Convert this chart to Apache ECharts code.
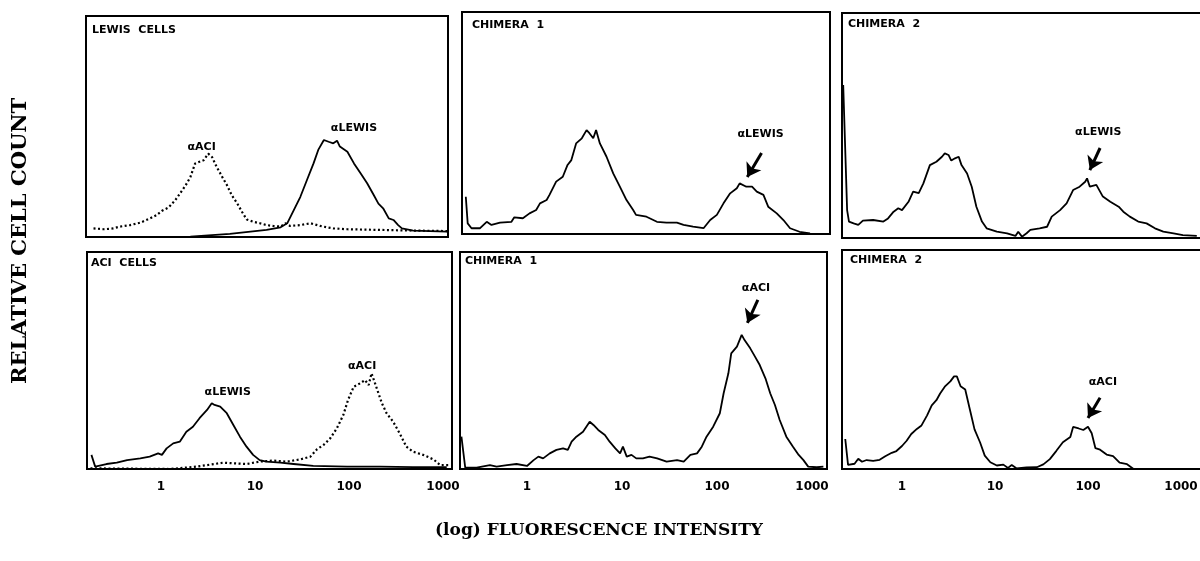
<!DOCTYPE html>
<html><head><meta charset="utf-8">
<script src="https://cdn.jsdelivr.net/npm/echarts@6/dist/echarts.min.js"></script>
<style>html,body{margin:0;padding:0;background:#fff}#chart{width:1200px;height:561px}</style>
</head><body><div id="chart"></div>
<script>
// x values are log10(fluorescence intensity); y values are relative cell count (% of panel height)
const tickValues = [0, 1, 2, 3];
const tickLabels = ['1', '10', '100', '1000'];
const panelNames = ['LEWIS  CELLS', 'CHIMERA  1', 'CHIMERA  2', 'ACI  CELLS', 'CHIMERA  1', 'CHIMERA  2'];

// Panel 1: Lewis cells
const lewisCellsAntiACI = [[-0.72,3.9],[-0.61,3.5],[-0.51,3.9],[-0.44,4.7],[-0.33,5.4],[-0.22,6.5],[-0.12,8.4],[-0.05,9.9],[0.01,11.9],[0.08,13.4],[0.15,16.7],[0.20,19.7],[0.26,23.4],[0.31,27.1],[0.36,33.2],[0.40,33.9],[0.45,34.7],[0.50,37.7],[0.54,36.2],[0.59,31.7],[0.65,27.1],[0.70,23.4],[0.75,18.9],[0.81,15.1],[0.86,11.3],[0.91,7.9],[0.98,6.9],[1.05,6.2],[1.12,5.4],[1.19,5.0],[1.27,4.7],[1.32,6.2],[1.37,5.0],[1.48,5.4],[1.59,6.2],[1.69,5.0],[1.76,4.4],[1.83,3.9],[1.98,3.5],[2.33,3.2],[2.68,2.9],[3.04,2.7]];
const lewisCellsAntiLewis = [[-0.74,0],[-0.15,0],[0.31,0.2],[0.73,1.4],[1.12,3.2],[1.27,4.4],[1.34,6.2],[1.41,12.2],[1.48,18.2],[1.55,25.8],[1.62,33.3],[1.67,39.4],[1.73,43.9],[1.78,43.1],[1.83,42.4],[1.87,43.6],[1.90,40.9],[1.98,38.6],[2.05,33.3],[2.12,28.8],[2.19,24.3],[2.26,19.0],[2.31,15.1],[2.36,13.0],[2.42,8.4],[2.47,7.7],[2.52,5.4],[2.56,3.9],[2.68,2.9],[3.04,2.4]];
// Panel 2: Chimera 1, anti-Lewis
const chimera1AntiLewis = [[-0.64,16.8],[-0.62,4.8],[-0.58,2.6],[-0.49,2.6],[-0.42,5.5],[-0.37,4.1],[-0.28,5.1],[-0.16,5.5],[-0.13,7.5],[-0.04,7.1],[0.03,9.3],[0.10,10.8],[0.14,13.8],[0.21,15.3],[0.24,17.6],[0.31,23.6],[0.38,25.8],[0.43,31.1],[0.47,33.3],[0.52,40.8],[0.58,43.1],[0.63,46.8],[0.66,45.4],[0.70,43.1],[0.73,46.8],[0.77,40.8],[0.84,34.8],[0.91,27.3],[0.98,21.3],[1.05,15.3],[1.12,10.8],[1.15,8.6],[1.26,7.8],[1.37,5.5],[1.47,5.1],[1.58,5.1],[1.65,4.1],[1.75,3.3],[1.86,2.6],[1.93,6.3],[2.00,8.6],[2.07,13.8],[2.14,18.3],[2.21,20.6],[2.24,22.8],[2.31,21.3],[2.37,21.3],[2.42,19.1],[2.49,17.6],[2.54,12.3],[2.63,9.3],[2.70,6.3],[2.77,2.6],[2.87,1.0],[2.98,0.3]];
// Panel 3: Chimera 2, anti-Lewis
const chimera2AntiLewis = [[-0.632,68],[-0.59,12.4],[-0.57,7.3],[-0.52,6.5],[-0.47,5.8],[-0.42,7.7],[-0.31,8.0],[-0.20,7.3],[-0.15,8.7],[-0.09,11.7],[-0.04,13.2],[0.00,12.4],[0.07,16.1],[0.12,20.6],[0.18,19.9],[0.23,24.3],[0.30,32.4],[0.37,33.9],[0.43,36.1],[0.46,37.6],[0.50,36.9],[0.53,34.4],[0.57,35.4],[0.61,36.1],[0.64,32.4],[0.70,28.7],[0.75,22.8],[0.80,13.9],[0.86,7.3],[0.91,4.3],[1.02,2.8],[1.13,2.1],[1.22,0.9],[1.25,2.8],[1.29,0.6],[1.34,2.1],[1.38,3.6],[1.48,4.3],[1.56,5.0],[1.61,9.5],[1.70,12.4],[1.77,15.4],[1.84,21.3],[1.91,22.8],[1.97,25.0],[1.99,26.5],[2.02,22.8],[2.09,23.6],[2.16,18.4],[2.24,16.1],[2.33,13.9],[2.38,11.7],[2.45,9.5],[2.54,7.3],[2.63,6.5],[2.72,4.3],[2.81,2.8],[2.92,2.1],[3.02,1.3],[3.17,0.9]];
// Panel 4: ACI cells
const aciCellsAntiLewis = [[-0.74,6.5],[-0.70,1.1],[-0.58,2.3],[-0.47,2.9],[-0.36,4.1],[-0.22,4.9],[-0.12,5.7],[-0.03,7.2],[0.01,6.5],[0.06,9.5],[0.13,11.8],[0.20,12.6],[0.27,17.2],[0.34,19.5],[0.41,23.4],[0.49,27.2],[0.54,30.3],[0.57,29.5],[0.63,28.7],[0.70,25.7],[0.77,20.3],[0.84,14.9],[0.91,10.3],[0.98,6.5],[1.05,4.1],[1.12,3.4],[1.27,2.9],[1.41,2.3],[1.62,1.4],[1.98,1.1],[2.33,1.1],[2.68,0.9],[3.04,0.8]];
const aciCellsAntiACI = [[-0.75,0.3],[0.10,0],[0.38,1.1],[0.66,2.9],[0.91,2.3],[1.05,3.4],[1.19,3.9],[1.34,3.4],[1.48,4.4],[1.59,5.7],[1.66,9.1],[1.73,11.1],[1.80,14.1],[1.87,18.7],[1.94,24.9],[1.99,31.8],[2.05,37.9],[2.12,39.5],[2.17,41.0],[2.21,38.7],[2.24,44.1],[2.29,37.9],[2.35,30.3],[2.40,25.7],[2.47,21.8],[2.54,16.4],[2.61,10.3],[2.68,8.0],[2.79,6.5],[2.90,4.4],[2.97,1.8],[3.07,1.8]];
// Panel 5: Chimera 1, anti-ACI
const chimera1AntiACI = [[-0.69,14.9],[-0.65,0.6],[-0.53,0.6],[-0.39,1.8],[-0.32,1.1],[-0.21,1.8],[-0.11,2.3],[0.00,1.4],[0.07,4.1],[0.12,5.7],[0.17,4.9],[0.24,7.2],[0.31,8.8],[0.38,9.5],[0.43,8.8],[0.47,12.6],[0.52,14.9],[0.59,17.2],[0.66,21.8],[0.70,20.3],[0.75,18.0],[0.82,15.7],[0.87,12.6],[0.93,9.5],[0.98,7.2],[1.01,10.3],[1.05,5.7],[1.10,6.5],[1.15,4.9],[1.22,4.9],[1.29,5.7],[1.37,4.9],[1.47,3.4],[1.58,4.1],[1.65,3.4],[1.72,6.5],[1.79,7.2],[1.84,10.3],[1.89,14.9],[1.96,19.5],[2.03,25.7],[2.07,34.9],[2.12,44.1],[2.15,53.3],[2.21,56.4],[2.26,61.8],[2.29,59.4],[2.35,55.6],[2.40,51.8],[2.45,47.9],[2.51,41.8],[2.56,34.9],[2.61,29.5],[2.66,22.6],[2.73,14.9],[2.80,10.3],[2.86,6.5],[2.91,4.1],[2.96,1.1],[3.05,0.8],[3.12,1.1]];
// Panel 6: Chimera 2, anti-ACI
const chimera2AntiACI = [[-0.61,13.7],[-0.58,1.9],[-0.51,2.4],[-0.47,4.7],[-0.43,3.3],[-0.38,4.1],[-0.31,3.7],[-0.24,4.2],[-0.18,5.8],[-0.11,7.4],[-0.06,8.2],[0.00,10.5],[0.05,12.9],[0.10,16.0],[0.16,18.3],[0.21,19.9],[0.27,24.5],[0.32,29.1],[0.37,31.4],[0.41,34.5],[0.46,37.6],[0.52,40.0],[0.56,42.3],[0.59,42.3],[0.63,37.8],[0.68,36.3],[0.73,27.2],[0.78,18.1],[0.84,12.1],[0.89,6.1],[0.95,3.1],[1.02,1.6],[1.09,2.0],[1.14,0.5],[1.18,1.8],[1.23,0.3],[1.34,0.7],[1.45,0.8],[1.52,2.1],[1.59,4.5],[1.66,8.3],[1.73,12.2],[1.81,14.6],[1.84,19.2],[1.90,18.5],[1.95,17.8],[2.00,19.3],[2.04,16.3],[2.08,9.5],[2.13,8.8],[2.20,6.6],[2.27,5.9],[2.34,2.9],[2.42,2.2],[2.49,0],[2.59,0],[2.81,0],[3.20,0]];

// ---- layout (not data) ----
const grids = [
  {left: 86, top: 16, width: 362, height: 221},
  {left: 462, top: 12, width: 368, height: 222},
  {left: 842, top: 13, width: 372, height: 225},
  {left: 87, top: 252, width: 365, height: 217},
  {left: 460, top: 252, width: 367, height: 217},
  {left: 842, top: 250, width: 372, height: 219}
];
const xRanges = [[-0.80,3.05],[-0.68,3.19],[-0.645,3.355],[-0.787,3.096],[-0.705,3.158],[-0.645,3.355]];
const titlePos = [[92,25],[472,20],[848,19],[91,258],[465,256],[850,255]];

const labelFont = {fontFamily: 'DejaVu Sans', fontWeight: 'bold', fontSize: 11, color: '#000'};

function annotations(labels, arrows) {
  const out = {};
  if (labels && labels.length) {
    out.markPoint = {
      silent: true, animation: false,
      symbol: 'rect', symbolSize: 1,
      itemStyle: {color: 'rgba(0,0,0,0)'},
      label: Object.assign({show: true, position: 'inside', formatter: p => p.name}, labelFont),
      data: labels.map(l => ({name: l[0], coord: [l[1], l[2]]}))
    };
  }
  if (arrows && arrows.length) {
    out.markLine = {
      silent: true, animation: false,
      symbol: ['none', 'arrow'], symbolSize: 13,
      lineStyle: {color: '#000', width: 3, type: 'solid'},
      itemStyle: {color: '#000'},
      label: {show: false},
      emphasis: {disabled: true},
      data: arrows.map(a => [{coord: [a[0], a[1]]}, {coord: [a[2], a[3]]}])
    };
  }
  return out;
}

function lineSeries(idx, data, dotted, extra) {
  return Object.assign({
    type: 'line', xAxisIndex: idx, yAxisIndex: idx, data: data,
    showSymbol: false, symbol: 'none', animation: false, silent: true,
    lineStyle: {color: '#000', width: dotted ? 2.2 : 1.8, type: dotted ? [2, 2.5] : 'solid'}
  }, extra || {});
}

const series = [
  lineSeries(0, lewisCellsAntiACI, true, annotations([['αACI', 0.43, 40.7], ['αLEWIS', 2.05, 49.3]])),
  lineSeries(0, lewisCellsAntiLewis, false),
  lineSeries(1, chimera1AntiLewis, false, annotations([['αLEWIS', 2.46, 45.0]], [[2.47, 36.5, 2.32, 25.7]])),
  lineSeries(2, chimera2AntiLewis, false, annotations([['αLEWIS', 2.11, 47.1]], [[2.13, 40.0, 2.02, 30.2]])),
  lineSeries(3, aciCellsAntiLewis, false, annotations([['αLEWIS', 0.71, 35.5], ['αACI', 2.14, 47.5]])),
  lineSeries(3, aciCellsAntiACI, true),
  lineSeries(4, chimera1AntiACI, false, annotations([['αACI', 2.41, 83.4]], [[2.43, 77.9, 2.32, 67.3]])),
  lineSeries(5, chimera2AntiACI, false, annotations([['αACI', 2.16, 39.7]], [[2.13, 32.5, 2.00, 23.3]]))
];

const option = {
  animation: false,
  backgroundColor: '#fff',
  title: panelNames.map((n, i) => ({
    text: n, left: titlePos[i][0], top: titlePos[i][1], padding: 0,
    textStyle: {fontFamily: 'DejaVu Sans', fontWeight: 'bold', fontSize: 11, color: '#000'}
  })),
  grid: grids.map(g => Object.assign({show: true, borderColor: '#000', borderWidth: 2, backgroundColor: 'rgba(0,0,0,0)', containLabel: false, outerBoundsMode: 'none'}, g)),
  xAxis: grids.map((g, i) => ({
    gridIndex: i, type: 'value', min: xRanges[i][0], max: xRanges[i][1],
    axisLine: {show: false}, axisTick: {show: false}, splitLine: {show: false},
    axisLabel: {
      show: i >= 3, customValues: tickValues, margin: 12,
      formatter: v => { const k = tickValues.indexOf(Math.round(v)); return k >= 0 ? tickLabels[k] : ''; },
      fontFamily: 'DejaVu Sans', fontWeight: 'bold', fontSize: 12, color: '#000'
    }
  })),
  yAxis: grids.map((g, i) => ({gridIndex: i, type: 'value', min: 0, max: 100, show: false})),
  graphic: [
    {type: 'text', x: 21, y: 241, rotation: Math.PI / 2,
     style: {text: 'RELATIVE CELL COUNT', font: 'bold 21px "DejaVu Serif"', fill: '#000', align: 'center', verticalAlign: 'middle'}},
    {type: 'text', x: 599, y: 531,
     style: {text: '(log) FLUORESCENCE INTENSITY', font: 'bold 17px "DejaVu Serif"', fill: '#000', align: 'center', verticalAlign: 'middle'}}
  ],
  series: series
};

const chart = echarts.init(document.getElementById('chart'), null, {renderer: 'canvas'});
chart.setOption(option);
</script>
</body></html>
